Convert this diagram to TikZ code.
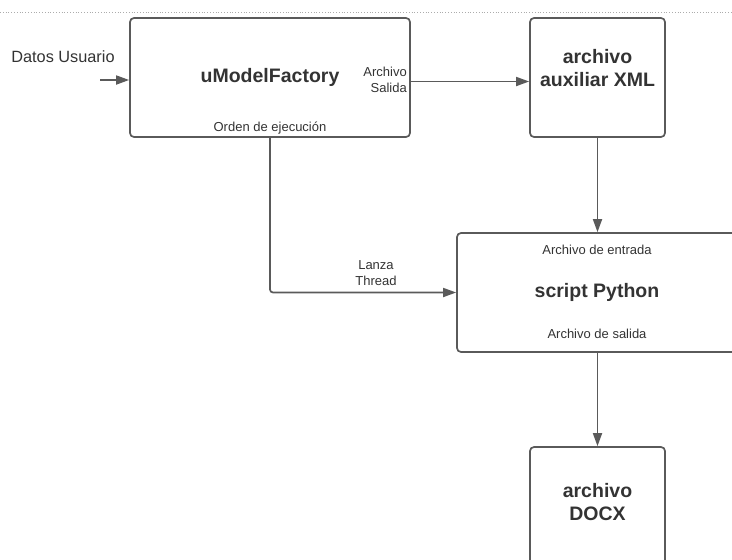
\documentclass[tikz,border=0pt]{standalone}
\usepackage{fontspec}
\setmainfont{Liberation Sans}
\usepackage{tikz}
\usetikzlibrary{arrows.meta}

\definecolor{linegray}{HTML}{5A5A5A}
\definecolor{textgray}{HTML}{333333}

\begin{document}
\begin{tikzpicture}[x=1pt,y=-1pt,
    box/.style={draw=linegray, line width=1.7pt, rounded corners=4pt,
      minimum width=280pt, minimum height=119pt, inner sep=0pt,
      text=textgray, font=\fontsize{19.5}{23}\selectfont\bfseries, align=center},
    smallbox/.style={box, minimum width=135pt},
    title/.style={text=textgray, font=\fontsize{19.5}{23}\selectfont\bfseries,
      align=center, inner sep=0pt},
    lbl/.style={text=textgray, font=\fontsize{13}{16}\selectfont,
      align=center, inner sep=0pt},
    conn/.style={draw=linegray, line width=1.7pt,
      -{Triangle[length=13pt,width=9pt]}}]

          \clip (0,0) rectangle (732,560);

          % Page edge
          \draw[linegray!50, dotted, line width=0.8pt] (0,12) -- (732,12);

          % Boxes
          \node[box] (factory) at (270,77.5) {uModelFactory};
          \node[smallbox] (xml) at (597.5,77.5) {};
          \node[title] (xmltitle) at (597.5,68) {archivo\\auxiliar XML};
          \node[box] (python) at (597,292.5) {script Python};
          \node[smallbox] (docx) at (597.5,506.5) {};
          \node[title] (docxtitle) at (597.5,502) {archivo\\DOCX};

          % Labels
          \node[lbl, font=\fontsize{16.3}{18}\selectfont] (datos) at (63,57)
            {Datos Usuario};
          \node[lbl, align=right, anchor=east] (salida) at (407,80)
            {Archivo\\Salida};
          \node[lbl] (orden) at (270,128) {Orden de ejecución};
          \node[lbl] (lanza) at (376,273) {Lanza\\Thread};
          \node[lbl] (entradapy) at (597,250) {Archivo de entrada};
          \node[lbl] (salidapy) at (597,334) {Archivo de salida};

          % Connectors
          \coordinate (entrada) at (100,80);
          \draw[conn] (entrada) -- (entrada -| factory.west);
          \draw[conn] ([yshift=-4pt]factory.east) -- ([yshift=-4pt]xml.west);
          \draw[conn] (xml.south) -- (xml.south |- python.north);
          \draw[conn, rounded corners=3pt] (factory.south) |- (python.west);
          \draw[conn] (python.south -| docx.north) -- (docx.north);
        \end{tikzpicture}
\end{document}
